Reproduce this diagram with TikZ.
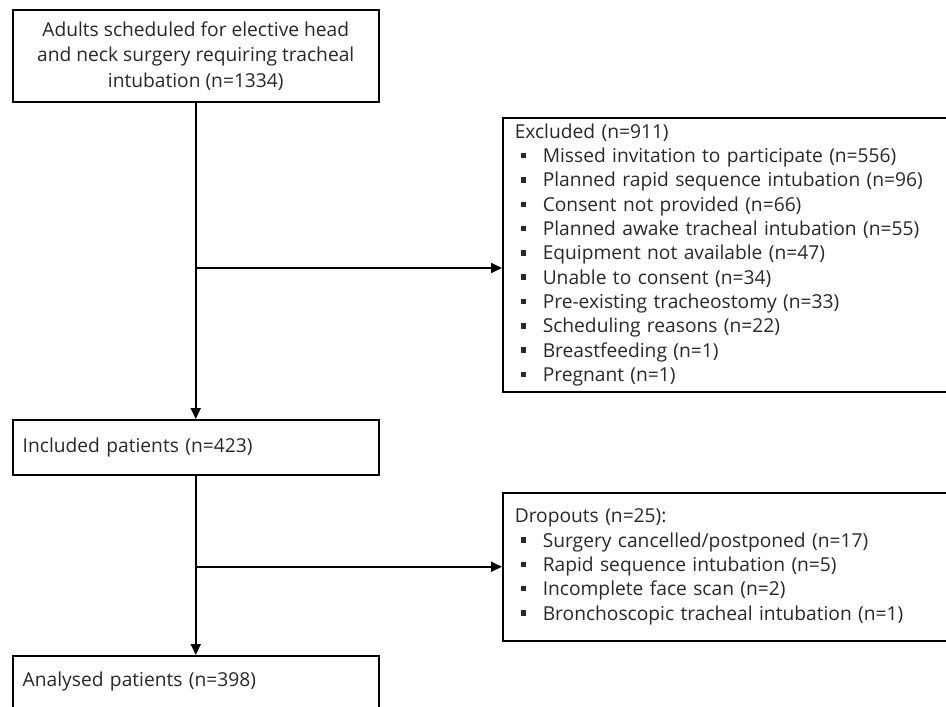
\documentclass[tikz,border=0pt]{standalone}
\usepackage{fontspec}
\setmainfont{Open Sans}
\usetikzlibrary{arrows.meta}
\definecolor{txt}{RGB}{40,40,40}
\newcommand{\sqb}{\makebox[28pt][l]{\hspace{6pt}\rule[0.22em]{5.5pt}{5.5pt}}}
\begin{document}
\begin{tikzpicture}[x=1pt,y=-1pt,
  box/.style={draw=black, line width=1.5pt, inner xsep=10pt, inner ysep=6pt,
              text=txt, font=\fontsize{19.2}{24.3}\selectfont},
  conn/.style={line width=1.8pt, -{Triangle[length=11pt,width=10pt]}}
]
\useasboundingbox (0,0) rectangle (946,707);
\clip (0,0) rectangle (946,707);
\fill[white] (0,0) rectangle (946,707);

\node[box, anchor=north west, minimum width=366pt, minimum height=92pt,
      align=center, font=\fontsize{19.2}{25.5}\selectfont] (adults) at (12,9)
  {Adults scheduled for elective head\\and neck surgery requiring tracheal\\intubation (n=1334)};

\node[box, anchor=north west, inner xsep=12pt, text width=450pt,
      minimum height=269pt, align=left] (excl) at (502,117)
  {Excluded (n=911)\\
   \sqb Missed invitation to participate (n=556)\\
   \sqb Planned rapid sequence intubation (n=96)\\
   \sqb Consent not provided (n=66)\\
   \sqb Planned awake tracheal intubation (n=55)\\
   \sqb Equipment not available (n=47)\\
   \sqb Unable to consent (n=34)\\
   \sqb Pre-existing tracheostomy (n=33)\\
   \sqb Scheduling reasons (n=22)\\
   \sqb Breastfeeding (n=1)\\
   \sqb Pregnant (n=1)};

\node[box, anchor=north west, text width=346pt, minimum height=55pt,
      align=left] (incl) at (12,419)
  {Included patients (n=423)};

\node[box, anchor=north west, inner xsep=12pt, text width=450pt,
      minimum height=148pt, align=left] (drop) at (502,492)
  {Dropouts (n=25):\\
   \sqb Surgery cancelled/postponed (n=17)\\
   \sqb Rapid sequence intubation (n=5)\\
   \sqb Incomplete face scan (n=2)\\
   \sqb Bronchoscopic tracheal intubation (n=1)};

\node[box, anchor=north west, text width=346pt, inner ysep=12pt,
      text height=19pt, text depth=60pt, align=left] (anal) at (12,655)
  {Analysed patients (n=398)};

\coordinate (ya) at (0,268);
\coordinate (ja) at (adults.south |- ya);
\draw[conn] (adults.south) -- (incl.north);
\draw[conn] (ja) -- (ja -| excl.west);
\draw[conn] (incl.south) -- (anal.north);
\coordinate (jb) at (incl.south |- drop.west);
\draw[conn] (jb) -- (drop.west);
\end{tikzpicture}
\end{document}
